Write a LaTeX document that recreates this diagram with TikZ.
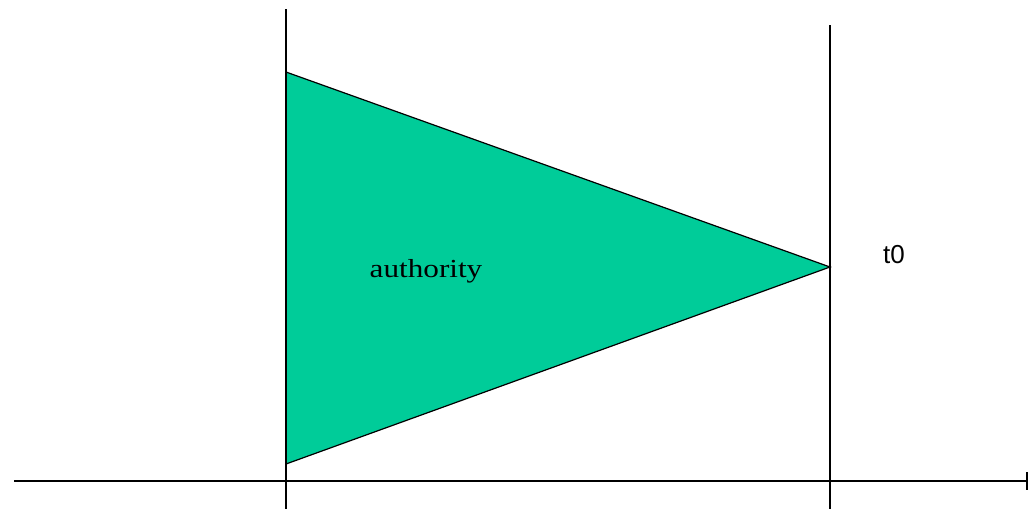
\documentclass[tikz,border=0pt]{standalone}
\usepackage{fontspec}
\setmainfont{Liberation Serif}
\newfontfamily\arialfont{Liberation Sans}
\definecolor{tri}{HTML}{00CC99}
\tikzset{
  axisline/.style={line width=1.6pt, black},
  edge/.style={line width=1.2pt, black},
  lbl/.style={inner sep=0pt, anchor=base}
}
\begin{document}
\begin{tikzpicture}[x=1pt,y=-1pt]
\useasboundingbox (0,0) rectangle (1028,509);
\coordinate (hl) at (14,481);
\coordinate (hr) at (1028,481);
\coordinate (v1t) at (286,9);
\coordinate (v1b) at (286,509);
\coordinate (v2t) at (830,25);
\coordinate (v2b) at (830,509);
\coordinate (A) at (286,72);
\coordinate (B) at (830,267);
\coordinate (C) at (286,464);
\fill[tri] (A) -- (B) -- (C) -- cycle;
\draw[edge] (A) -- (B) -- (C);
\draw[axisline] (hl) -- (hr);
\coordinate (tk1) at (1027,472);
\coordinate (tk2) at (1027,490);
\draw[axisline] (tk1) -- (tk2);
\draw[axisline] (v1t) -- (v1b);
\draw[axisline] (v2t) -- (v2b);
\node[lbl, font=\fontsize{26}{30}\selectfont, xscale=1.2, transform shape] (auth) at (426,277) {authority};
\node[lbl, font=\arialfont\fontsize{26}{30}\selectfont] (t0) at (894,263) {t0};
\end{tikzpicture}
\end{document}
